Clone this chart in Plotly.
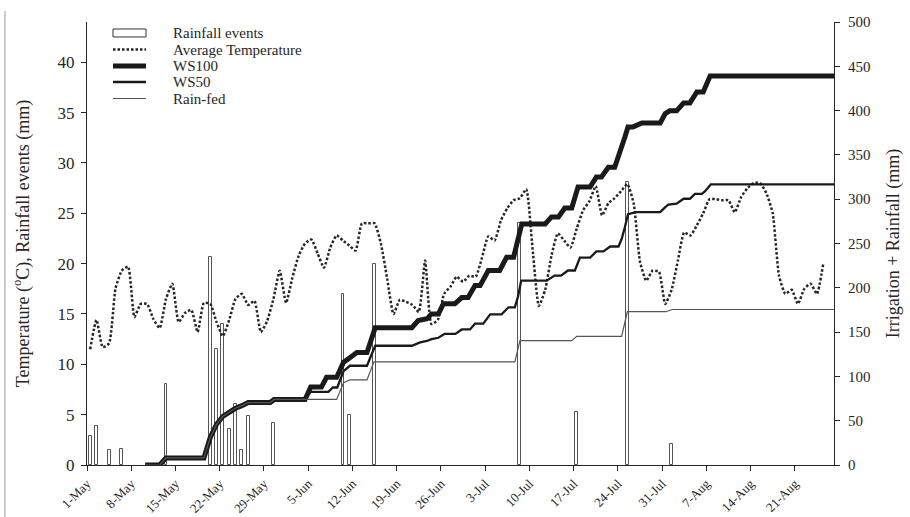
import plotly.graph_objects as go

# ---------------- data ----------------
tick_labels = ["1-May", "8-May", "15-May", "22-May", "29-May", "5-Jun", "12-Jun",
               "19-Jun", "26-Jun", "3-Jul", "10-Jul", "17-Jul", "24-Jul", "31-Jul",
               "7-Aug", "14-Aug", "21-Aug"]

# Rainfall events: day index counted from 1-May, amount in mm
rain_day = [0, 1, 3, 5, 12, 19, 20, 21, 22, 23, 24, 25, 29, 40, 41, 45, 68, 77, 85, 92]
rain_mm = [2.9, 3.9, 1.5, 1.6, 8.0, 20.7, 11.5, 14.0, 3.6, 6.1, 1.5, 4.9, 4.2,
           17.0, 5.0, 20.0, 24.0, 5.3, 28.1, 2.1]

# Average daily temperature (deg C), one value per day from 1-May
temp_c = [11.5, 14.4, 11.7, 12.1, 17.5, 19.3, 19.7, 14.7, 16.0, 16.0,
          14.5, 13.6, 16.5, 18.0, 14.2, 15.1, 15.4, 13.2, 16.1, 16.0,
          14.2, 12.8, 14.4, 16.5, 17.0, 15.9, 16.3, 13.2, 14.3, 16.5,
          19.3, 16.1, 18.6, 20.8, 22.0, 22.4, 21.0, 19.6, 21.6, 22.8,
          22.3, 21.8, 21.3, 24.0, 24.0, 24.0, 22.0, 18.5, 15.0, 16.4,
          16.2, 15.9, 15.2, 20.3, 14.0, 14.4, 17.0, 17.7, 18.7, 18.2,
          18.8, 18.7, 20.6, 22.7, 22.3, 24.3, 25.5, 26.3, 26.5, 27.4,
          21.5, 15.8, 17.4, 20.8, 23.0, 22.3, 21.6, 23.5, 25.3, 26.2,
          27.7, 24.8, 26.0, 26.5, 27.2, 27.9, 26.0, 20.2, 18.3, 19.3,
          19.2, 16.0, 17.4, 20.3, 23.1, 22.8, 23.8, 25.0, 26.4, 26.4,
          26.3, 26.3, 25.1, 26.6, 27.5, 28.0, 28.0, 27.0, 25.0, 18.8,
          17.0, 17.4, 16.0, 17.5, 18.0, 17.0, 20.0]

# Cumulative irrigation + rainfall (mm): vertices (day from 1-May, mm)
ws100_day = [9.2, 11.5, 12.5, 18.5, 19.5, 20.5, 21.5, 22.5, 23.5, 24.5, 25.5, 29.0,
             29.6, 34.5, 35.4, 37.1, 37.9, 39.5, 40.6, 41.6, 42.7, 44.3, 45.6, 51.4,
             52.4, 53.8, 54.5, 55.6, 56.4, 58.2, 59.3, 60.3, 61.4, 62.2, 63.5, 65.3,
             66.4, 67.5, 68.2, 68.8, 72.5, 73.5, 74.6, 75.6, 76.7, 77.7, 79.6, 80.6,
             81.4, 82.5, 83.5, 84.3, 85.1, 85.6, 86.4, 87.8, 90.7, 91.5, 92.2, 93.3,
             94.4, 95.4, 96.5, 97.5, 98.6, 118.5]
ws100_mm = [0, 0, 8, 8, 31, 46, 55, 60, 64, 67, 70.5, 70.5,
            74, 74, 88, 88, 99, 99, 116, 121, 127, 127, 155, 155,
            163, 165, 170.5, 170.5, 182, 182, 189, 189, 202.5, 202.5, 219.5, 219.5,
            234.5, 234.5, 257, 272, 272, 280, 280, 290, 290, 313.7, 313.7, 325,
            325, 336, 336, 351.5, 370, 381.6, 381.6, 386, 386, 396.7, 399.7, 399.7,
            408.7, 408.7, 421, 421, 439, 439]

ws50_day = [9.2, 11.5, 12.5, 18.5, 19.5, 20.5, 21.5, 22.5, 23.5, 24.5, 25.5, 29.0,
            29.6, 34.5, 35.4, 38.2, 38.9, 39.6, 40.6, 41.6, 44.3, 45.6, 51.4, 52.7,
            53.8, 54.5, 55.6, 56.6, 58.3, 59.3, 60.6, 61.4, 62.7, 63.8, 65.6, 66.7,
            67.7, 68.2, 68.7, 72.7, 74.0, 75.0, 76.1, 77.2, 78.0, 79.6, 80.6, 81.7,
            82.8, 84.1, 84.6, 85.1, 85.6, 86.9, 90.7, 91.5, 92.0, 93.3, 94.4, 95.4,
            96.2, 97.3, 97.8, 98.7, 118.5]
ws50_mm = [0, 0, 8, 8, 31, 46, 55, 60, 64, 67, 70.5, 70.5,
           74, 74, 82.6, 82.6, 87.5, 87.5, 106, 112, 112, 134.6, 134.6, 138.4,
           140, 142, 143.6, 148, 148, 153, 153, 159.5, 159.5, 170, 170, 178,
           178, 190, 208, 208, 213.8, 213.8, 219.5, 219.5, 234, 234, 241, 241,
           246.6, 246.6, 255, 268, 283, 285.4, 285.4, 291, 294, 295, 300.5, 300.5,
           306, 306, 309, 316.7, 316.7]

rainfed_day = [9.2, 11.5, 12.5, 18.5, 19.5, 20.5, 21.5, 22.5, 23.5, 24.5, 25.5, 29.0,
               29.6, 39.5, 40.6, 41.6, 44.3, 45.4, 67.7, 68.5, 76.7, 77.5, 84.6, 85.5,
               91.6, 92.6, 118.5]
rainfed_mm = [0, 0, 8, 8, 31, 46, 55, 60, 64, 67, 70.5, 70.5,
              74, 74, 93, 96, 96, 116.5, 116.5, 140.3, 140.3, 145.2, 145.2, 173,
              173, 175.5, 175.5]

series_names = ["Rainfall events", "Average Temperature", "WS100", "WS50", "Rain-fed"]

# ---------------- styles ----------------
SERIF = "Liberation Serif, Times New Roman, serif"
INK = "#262626"
BAR_LINE = "#555555"
TEMP_LINE = dict(color=INK, width=2.5, dash="2.5px,2px")
WS100_LINE = dict(color="#1a1a1a", width=5)
WS50_LINE = dict(color="#1a1a1a", width=2.3)
RAINFED_LINE = dict(color="#555555", width=1.2)

days = list(range(len(temp_c)))
fig = go.Figure()

fig.add_trace(go.Bar(
    x=[d + 0.5 for d in rain_day], y=rain_mm, name=series_names[0],
    width=0.45, marker=dict(color="white", line=dict(color=BAR_LINE, width=1)),
    yaxis="y"))

fig.add_trace(go.Scatter(
    x=[d + 0.5 for d in days], y=temp_c, name=series_names[1],
    mode="lines", line=dict(**TEMP_LINE, shape="spline", smoothing=0.5),
    yaxis="y"))

fig.add_trace(go.Scatter(x=ws100_day, y=ws100_mm, name=series_names[2], mode="lines",
                         line=WS100_LINE, yaxis="y2"))
fig.add_trace(go.Scatter(x=ws50_day, y=ws50_mm, name=series_names[3], mode="lines",
                         line=WS50_LINE, yaxis="y2"))
fig.add_trace(go.Scatter(x=rainfed_day, y=rainfed_mm, name=series_names[4], mode="lines",
                         line=RAINFED_LINE, yaxis="y2"))

tick_days = [7 * i for i in range(len(tick_labels))]

# ---- hand-drawn legend (keys + labels in paper coordinates) ----
leg_x0, leg_x1, leg_tx = 0.0348, 0.079, 0.1124
leg_y = [0.9752, 0.9379, 0.9007, 0.8646, 0.8273]
shapes = [dict(type="rect", xref="paper", yref="paper", x0=leg_x0, x1=leg_x1,
               y0=leg_y[0] - 0.009, y1=leg_y[0] + 0.009,
               line=dict(color="#333333", width=1), fillcolor="white")]
for yy, st in zip(leg_y[1:], [TEMP_LINE, WS100_LINE, WS50_LINE, RAINFED_LINE]):
    shapes.append(dict(type="line", xref="paper", yref="paper", x0=leg_x0, x1=leg_x1,
                       y0=yy, y1=yy, line=st))
# thin frame line at the far left of the picture
shapes.append(dict(type="line", xref="paper", yref="paper", x0=-0.1098, x1=-0.1098,
                   y0=-0.12, y1=1.025, line=dict(color="#9a9a9a", width=1)))

annotations = [dict(text=nm, xref="paper", yref="paper", x=leg_tx, y=yy,
                    xanchor="left", yanchor="middle", showarrow=False,
                    font=dict(size=15, family=SERIF, color=INK))
               for nm, yy in zip(series_names, leg_y)]

fig.update_layout(
    width=910, height=517,
    margin=dict(l=87, r=76, t=22, b=52, autoexpand=False),
    paper_bgcolor="white", plot_bgcolor="white",
    font=dict(family=SERIF, color=INK),
    showlegend=False,
    bargap=0,
    xaxis=dict(range=[0, 118.2], tickmode="array", tickvals=tick_days, ticktext=tick_labels,
               tickangle=-45, ticks="outside", ticklen=5, tickcolor=INK, automargin=False,
               showline=True, linecolor=INK, linewidth=1, showgrid=False, zeroline=False,
               tickfont=dict(size=13, family=SERIF)),
    yaxis=dict(range=[0, 44], dtick=5, ticks="outside", ticklen=5, tickcolor=INK,
               automargin=False, ticklabelstandoff=3,
               showline=True, linecolor=INK, linewidth=1, showgrid=False, zeroline=False,
               tickfont=dict(size=17, family=SERIF),
               title=dict(text="Temperature (<sup>o</sup>C), Rainfall events (mm)",
                          font=dict(size=18, family=SERIF), standoff=23)),
    yaxis2=dict(range=[0, 500], dtick=50, overlaying="y", side="right",
                ticks="outside", ticklen=5, tickcolor=INK, automargin=False,
                ticklabelstandoff=5,
                showline=True, linecolor=INK, linewidth=1, showgrid=False, zeroline=False,
                tickfont=dict(size=15, family=SERIF),
                title=dict(text="Irrigation + Rainfall (mm)",
                           font=dict(size=18, family=SERIF), standoff=16)),
    shapes=shapes,
    annotations=annotations,
)

fig.write_html("out.html", config={"displayModeBar": False},
               post_script="document.body.style.margin='0px';document.body.style.overflow='hidden';")
